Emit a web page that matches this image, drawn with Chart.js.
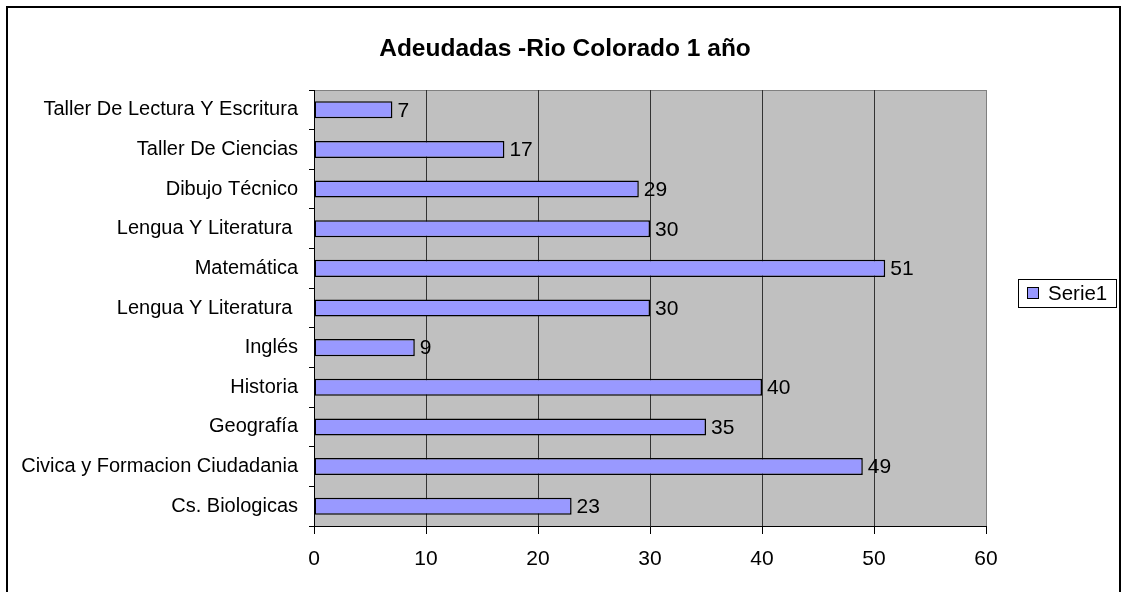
<!DOCTYPE html>
<html>
<head>
<meta charset="utf-8">
<title>Adeudadas -Rio Colorado 1 año</title>
<script src="https://cdn.jsdelivr.net/npm/chart.js@4/dist/chart.umd.min.js"></script>
<style>
  html, body { margin: 0; padding: 0; background: #fff; }
  #wrap { width: 1123px; height: 592px; }
</style>
</head>
<body>
<div id="wrap"><canvas id="grafica"></canvas></div>
<script>
// Datos (de arriba hacia abajo)
const materias = [
  'Taller De Lectura Y Escritura',
  'Taller De Ciencias',
  'Dibujo Técnico',
  'Lengua Y Literatura ',
  'Matemática',
  'Lengua Y Literatura ',
  'Inglés',
  'Historia',
  'Geografía',
  'Civica y Formacion Ciudadania',
  'Cs. Biologicas'
];
const adeudadas = [7, 17, 29, 30, 51, 30, 9, 40, 35, 49, 23];
const ticksX = [0, 10, 20, 30, 40, 50, 60];
const titulo = 'Adeudadas -Rio Colorado 1 año';
const nombreSerie = 'Serie1';

const FUENTE = '"Liberation Sans", Arial, sans-serif';

// Fondo, marco exterior, titulo y area gris del grafico
const fondoPlugin = {
  id: 'fondo',
  beforeDraw(chart) {
    const ctx = chart.ctx;
    const a = chart.chartArea;
    ctx.save();
    ctx.fillStyle = '#ffffff';
    ctx.fillRect(0, 0, chart.width, chart.height);
    ctx.strokeStyle = '#000000';
    ctx.lineWidth = 2;
    ctx.strokeRect(7, 7, 1113, 700);
    ctx.fillStyle = '#c0c0c0';
    ctx.fillRect(a.left, a.top, a.right - a.left, a.bottom - a.top);
    ctx.strokeStyle = '#808080';
    ctx.lineWidth = 1;
    ctx.strokeRect(a.left + 0.5, a.top + 0.5, a.right - a.left, a.bottom - a.top);
    // titulo centrado en todo el marco
    ctx.fillStyle = '#000';
    ctx.font = 'bold 24.5px ' + FUENTE;
    ctx.textAlign = 'center';
    ctx.textBaseline = 'middle';
    ctx.fillText(titulo, 565, 49);
    ctx.restore();
  }
};

// Etiquetas con el valor al final de cada barra
const valoresPlugin = {
  id: 'valores',
  afterDatasetsDraw(chart) {
    const ctx = chart.ctx;
    const meta = chart.getDatasetMeta(0);
    ctx.save();
    ctx.fillStyle = '#000';
    ctx.font = '21px ' + FUENTE;
    ctx.textAlign = 'left';
    ctx.textBaseline = 'middle';
    meta.data.forEach((bar, i) => {
      ctx.fillText(String(adeudadas[i]), bar.x + 5, bar.y + 1);
    });
    ctx.restore();
  }
};

// Leyenda con recuadro a la derecha
const leyendaPlugin = {
  id: 'leyenda',
  afterDraw(chart) {
    const ctx = chart.ctx;
    const cy = 293;
    ctx.save();
    ctx.fillStyle = '#fff';
    ctx.strokeStyle = '#000';
    ctx.lineWidth = 1;
    ctx.fillRect(1018, cy - 14, 99, 29);
    ctx.strokeRect(1018.5, cy - 13.5, 98, 28);
    ctx.fillStyle = '#9999ff';
    ctx.fillRect(1027, cy - 6, 12, 12);
    ctx.strokeRect(1027.5, cy - 5.5, 11, 11);
    ctx.fillStyle = '#000';
    ctx.font = '20.5px ' + FUENTE;
    ctx.textBaseline = 'middle';
    ctx.fillText(chart.data.datasets[0].label, 1048, cy + 1);
    ctx.restore();
  }
};

const ctx = document.getElementById('grafica').getContext('2d');
new Chart(ctx, {
  type: 'bar',
  data: {
    labels: materias,
    datasets: [{
      label: nombreSerie,
      data: adeudadas,
      backgroundColor: '#9999ff',
      borderColor: '#000000',
      borderWidth: 1.5,
      borderSkipped: false,
      barPercentage: 0.43,
      categoryPercentage: 1
    }]
  },
  options: {
    indexAxis: 'y',
    responsive: true,
    maintainAspectRatio: false,
    animation: false,
    layout: { padding: { left: 8, right: 137, top: 90, bottom: 0 } },
    plugins: {
      legend: { display: false },
      tooltip: { enabled: false },
      title: { display: false }
    },
    scales: {
      x: {
        min: ticksX[0],
        max: ticksX[ticksX.length - 1],
        afterFit(scale) { scale.height = 66; },
        afterBuildTicks(scale) { scale.ticks = ticksX.map(v => ({ value: v })); },
        ticks: {
          color: '#000',
          font: { family: FUENTE, size: 21 },
          padding: 13,
          maxRotation: 0
        },
        grid: {
          color: c => (c.index === ticksX.length - 1 ? '#808080' : '#333333'),
          tickColor: '#000',
          tickLength: 8,
          lineWidth: 1
        },
        border: { display: true, color: '#000', width: 1 }
      },
      y: {
        afterFit(scale) { scale.width = 306; },
        ticks: {
          color: '#000',
          font: { family: FUENTE, size: 20 },
          padding: 11,
          autoSkip: false
        },
        grid: {
          drawOnChartArea: false,
          drawTicks: true,
          tickLength: 5,
          offset: true,
          color: '#000'
        },
        border: { display: true, color: '#000', width: 1 }
      }
    }
  },
  plugins: [fondoPlugin, valoresPlugin, leyendaPlugin]
});
</script>
</body>
</html>
